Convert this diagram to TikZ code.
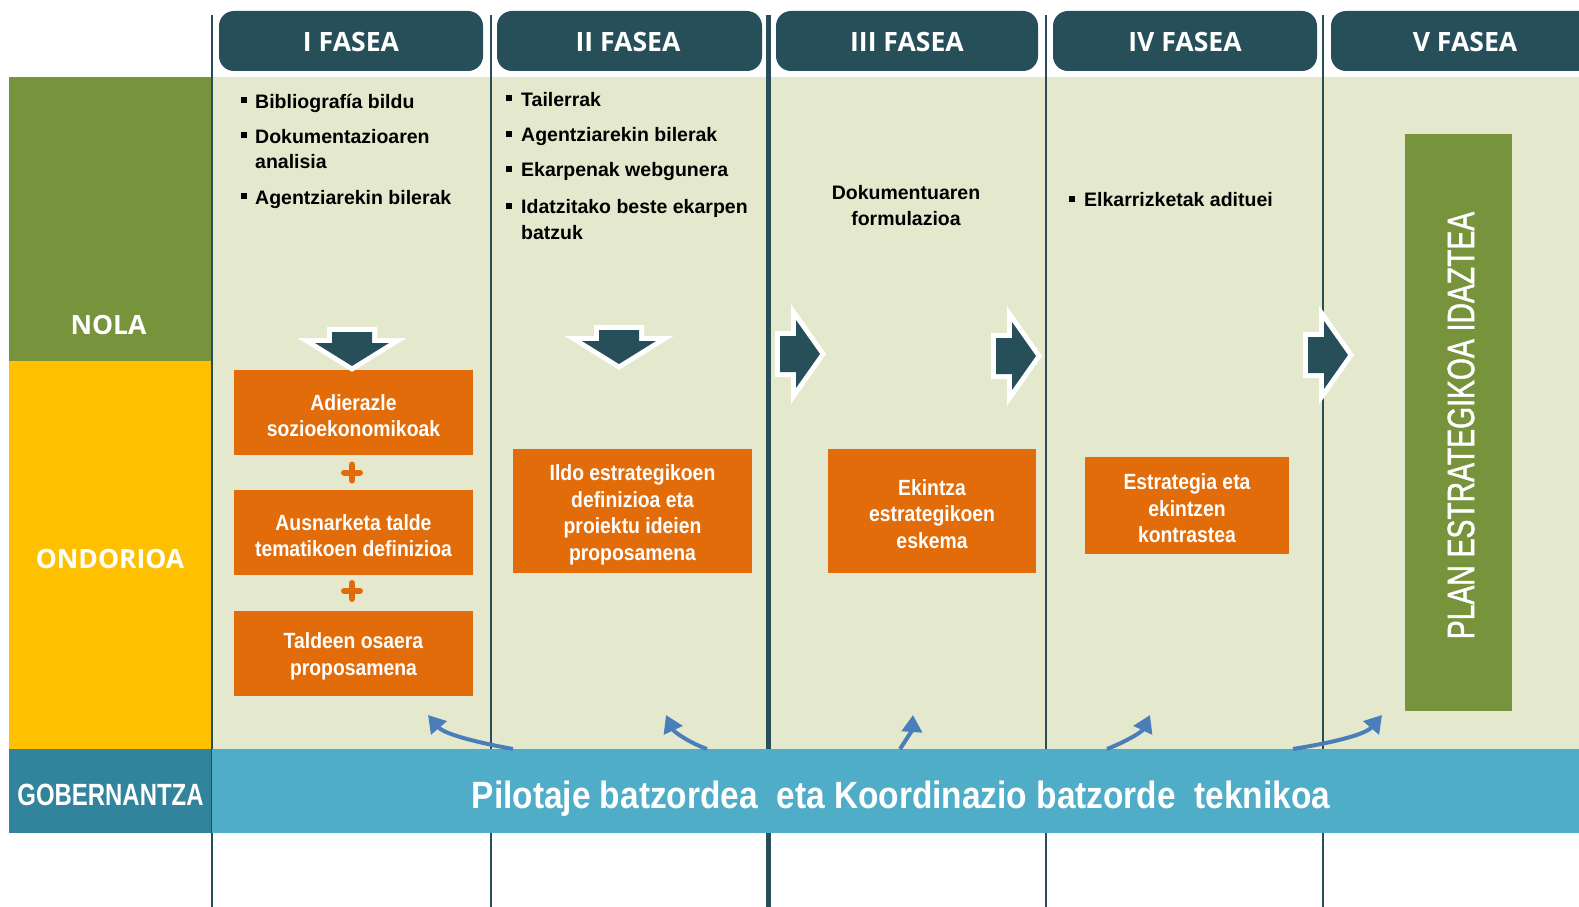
\documentclass[tikz,border=0pt]{standalone}
\usepackage{fontspec}
\setmainfont{Liberation Sans}
\newfontfamily\hdfont{Open Sans}
\newfontfamily\orfont[FakeStretch=0.88]{Liberation Sans}
\newfontfamily\govfont[FakeStretch=0.78]{Liberation Sans}
\newfontfamily\bandfont[FakeStretch=0.88]{Liberation Sans}
\newfontfamily\planfont[FakeStretch=0.745,FakeBold=1.2]{Liberation Sans}
\usetikzlibrary{arrows.meta}
\definecolor{hdr}{HTML}{264F5A}
\definecolor{vln}{HTML}{2A4D5A}
\definecolor{bgl}{HTML}{E4E9CD}
\definecolor{lgreen}{HTML}{77933C}
\definecolor{lyellow}{HTML}{FFC000}
\definecolor{lteal}{HTML}{31849B}
\definecolor{bandc}{HTML}{4FADC8}
\definecolor{orng}{HTML}{E36C0A}
\definecolor{barrow}{HTML}{4A7EBB}
\begin{document}
\begin{tikzpicture}[x=1pt,y=-1pt,
  bul/.style={fill=black, draw=none, minimum size=6pt, inner sep=0pt},
  btxt/.style={anchor=base west, inner sep=0pt, font=\bfseries\fontsize{19.5}{24}\selectfont},
  ctxt/.style={anchor=base, inner sep=0pt, font=\bfseries\fontsize{19.5}{24}\selectfont},
  obox/.style={fill=orng, inner sep=0pt},
  otxt/.style={text=white, align=center, inner sep=0pt,
    font=\orfont\bfseries\fontsize{22}{26.5}\selectfont},
  hdrbox/.style={fill=hdr, rounded corners=15pt, minimum height=60pt, inner sep=0pt},
  hdtxt/.style={anchor=base, inner sep=0pt, text=white, font=\hdfont\bfseries\fontsize{26.6}{30}\selectfont},
  lbl/.style={anchor=base, inner sep=0pt, text=white, font=\hdfont\bfseries\fontsize{26.5}{30}\selectfont},
  vline/.style={draw=vln, line width=2pt},
  thickvline/.style={draw=vln, line width=5pt},
  bluearr/.style={draw=barrow, line width=4pt, -{Triangle[width=20pt,length=17pt]}},
  plus/.style={draw=orng, line width=6pt, line cap=round},
  downblock/.pic={
    \path[draw=white, line width=10pt, line join=miter]
      (-20,-34) -- (20,-34) -- (20,-23) -- (37,-23) -- (0,0) -- (-37,-23) -- (-20,-23) -- cycle;
    \path[fill=hdr]
      (-20,-34) -- (20,-34) -- (20,-23) -- (37,-23) -- (0,0) -- (-37,-23) -- (-20,-23) -- cycle;
  },
  rightblock/.pic={
    \path[draw=white, line width=10pt, line join=miter]
      (-40,-18) -- (-24,-18) -- (-24,-34) -- (0,0) -- (-24,34) -- (-24,18) -- (-40,18) -- cycle;
    \path[fill=hdr]
      (-40,-18) -- (-24,-18) -- (-24,-34) -- (0,0) -- (-24,34) -- (-24,18) -- (-40,18) -- cycle;
  }
]
\useasboundingbox (0,0) rectangle (1579,907);
\fill[white] (0,0) rectangle (1579,907);
\begin{scope}
\clip (0,0) rectangle (1579,907);

% backgrounds
\fill[bgl] (212,77) rectangle (1579,749);
\fill[lgreen] (9,77) rectangle (212,361);
\fill[lyellow] (9,361) rectangle (212,749);
\fill[lteal] (9,749) rectangle (212,833);

% vertical lines
\draw[vline] (212,15) -- (212,907);
\draw[vline] (491,15) -- (491,907);
\draw[thickvline] (768,15) -- (768,907);
\draw[vline] (1046,15) -- (1046,907);
\draw[vline] (1323,15) -- (1323,907);

% headers
\node[hdrbox, minimum width=264pt] (h1) at (351,41) {};
\node[hdrbox, minimum width=265pt] (h2) at (629.5,41) {};
\node[hdrbox, minimum width=262pt] (h3) at (907,41) {};
\node[hdrbox, minimum width=264pt] (h4) at (1185,41) {};
\node[hdrbox, minimum width=268pt] (h5) at (1465,41) {};
\node[hdtxt] (h1t) at (351,52) {I FASEA};
\node[hdtxt] (h2t) at (628,52) {II FASEA};
\node[hdtxt] (h3t) at (907,52) {III FASEA};
\node[hdtxt] (h4t) at (1185,52) {IV FASEA};
\node[hdtxt] (h5t) at (1465,52) {V FASEA};

% left labels
\node[lbl] (nola) at (108.5,334) {NOLA};
\node[lbl] (ondorioa) at (110,568) {ONDORIOA};
\node[anchor=base, inner sep=0pt, text=white, font=\govfont\bfseries\fontsize{30.7}{32}\selectfont] (gob) at (110.5,805) {GOBERNANTZA};

% column I bullets
\node[bul] (bI1) at (243.5,100) {};
\node[btxt] (tI1) at (255,108) {Bibliografía bildu};
\node[bul] (bI2) at (243.5,135) {};
\node[btxt] (tI2) at (255,143) {Dokumentazioaren};
\node[btxt] (tI2b) at (255,168) {analisia};
\node[bul] (bI3) at (243.5,196) {};
\node[btxt] (tI3) at (255,204) {Agentziarekin bilerak};

% column II bullets
\node[bul] (bII1) at (509,98) {};
\node[btxt] (tII1) at (521,106) {Tailerrak};
\node[bul] (bII2) at (509,134) {};
\node[btxt] (tII2) at (521,141.7) {Agentziarekin bilerak};
\node[bul] (bII3) at (509,169) {};
\node[btxt] (tII3) at (521,176.7) {Ekarpenak webgunera};
\node[bul] (bII4) at (509,205.5) {};
\node[btxt] (tII4) at (521,213.3) {Idatzitako beste ekarpen};
\node[btxt] (tII4b) at (521,239.3) {batzuk};

% column III text
\node[ctxt] (tIII1) at (906,199) {Dokumentuaren};
\node[ctxt] (tIII2) at (906,225) {formulazioa};

% column IV bullet
\node[bul] (bIV1) at (1072,199) {};
\node[btxt] (tIV1) at (1084,206.7) {Elkarrizketak adituei};

% orange boxes
\node[obox, minimum width=239pt, minimum height=85pt] (b11) at (353.5,412.5) {};
\node[obox, minimum width=239pt, minimum height=85pt] (b12) at (353.5,532.5) {};
\node[obox, minimum width=239pt, minimum height=85pt] (b13) at (353.5,653.5) {};
\node[obox, minimum width=239pt, minimum height=124pt] (b2) at (632.5,511) {};
\node[obox, minimum width=208pt, minimum height=124pt] (b3) at (932,511) {};
\node[obox, minimum width=204pt, minimum height=97pt] (b4) at (1187,505.5) {};
\node[otxt] (b11t) at ([yshift=-3pt]b11.center) {Adierazle\\sozioekonomikoak};
\node[otxt] (b12t) at ([yshift=-3pt]b12.center) {Ausnarketa talde\\tematikoen definizioa};
\node[otxt] (b13t) at ([yshift=-3pt]b13.center) {Taldeen osaera\\proposamena};
\node[otxt] (b2t) at ([yshift=-4pt]b2.center) {Ildo estrategikoen\\definizioa eta\\proiektu ideien\\proposamena};
\node[otxt] (b3t) at ([yshift=-3pt]b3.center) {Ekintza\\estrategikoen\\eskema};
\node[otxt] (b4t) at ([yshift=-3pt]b4.center) {Estrategia eta\\ekintzen\\kontrastea};

% plus signs
\draw[plus] (344,472.5) -- (360,472.5) (352,464.5) -- (352,480.5);
\draw[plus] (344,591) -- (360,591) (352,583) -- (352,599);

% plan box
\node[fill=lgreen, minimum width=107pt, minimum height=577pt, inner sep=0pt] (plan) at (1458.5,422.5) {};
\node[rotate=90, inner sep=0pt, text=white, font=\planfont\fontsize{38}{40}\selectfont] (plant) at (1461,425.5) {PLAN ESTRATEGIKOA IDAZTEA};

% block arrows
\pic at (352,366) {downblock};
\pic at (619,364) {downblock};
\pic at (820,354) {rightblock};
\pic at (1036,356) {rightblock};
\pic at (1348,355) {rightblock};

% governance band
\node[fill=bandc, minimum width=1367pt, minimum height=84pt, inner sep=0pt, anchor=north west] (band) at (212,749) {};
\node[anchor=base, inner sep=0pt, text=white, font=\bandfont\bfseries\fontsize{38}{40}\selectfont] (bandt) at (901,808) {Pilotaje batzordea\ \ eta Koordinazio batzorde\ \ teknikoa};

% blue curved arrows
\coordinate (s1) at (513,749); \coordinate (t1) at (428,715);
\coordinate (s2) at (707,749); \coordinate (t2) at (666,715);
\coordinate (s3) at (900,749); \coordinate (t3) at (913,715);
\coordinate (s4) at (1107,749); \coordinate (t4) at (1150,715);
\coordinate (s5) at (1293,749); \coordinate (t5) at (1382,715);
\draw[bluearr] (s1) .. controls (485,744) and (445,735) .. (t1);
\draw[bluearr] (s2) .. controls (690,743) and (674,732) .. (t2);
\draw[bluearr] (s3) .. controls (906,740) and (912,730) .. (t3);
\draw[bluearr] (s4) .. controls (1125,742) and (1142,732) .. (t4);
\draw[bluearr] (s5) .. controls (1330,743) and (1365,735) .. (t5);
\end{scope}
\end{tikzpicture}
\end{document}
